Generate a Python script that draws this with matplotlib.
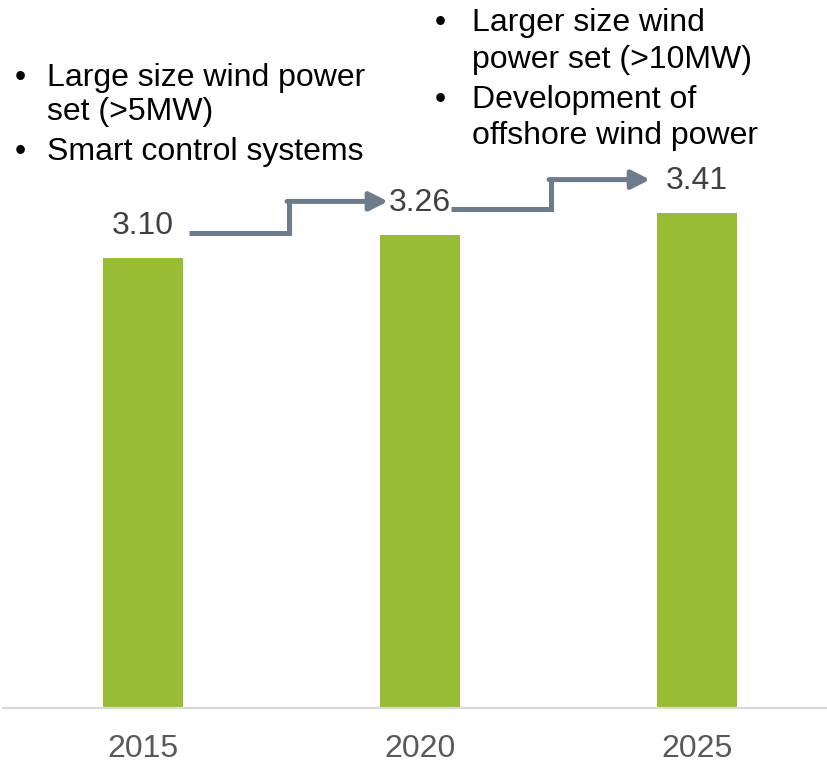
import matplotlib.pyplot as plt

plt.rcParams["font.family"] = ["Liberation Sans", "DejaVu Sans"]

years = ["2015", "2020", "2025"]
values = [3.10, 3.26, 3.41]
left_notes = [["Large size wind power", "set (>5MW)"], ["Smart control systems"]]
right_notes = [["Larger size wind", "power set (>10MW)"], ["Development of", "offshore wind power"]]

W, H = 827, 760
BAR_COLOR = "#98BD34"
ARROW_COLOR = "#6E7B8B"
LABEL_OFFSET = 0.234
ARROW_START = [0.166, 0.112]  # where each step arrow begins, past its bar centre


def px(x, y):
    # pixel position (from top-left) -> figure fraction
    return x / W, 1 - y / H


def draw_notes(fig, notes, bullet_x, text_x, baselines):
    k = 0
    for para in notes:
        for j, line in enumerate(para):
            if j == 0:
                fig.text(*px(bullet_x, baselines[k]), "\u2022", fontsize=23,
                         ha="center", va="baseline", color="black")
            fig.text(*px(text_x, baselines[k]), line, fontsize=23,
                     ha="left", va="baseline", color="black")
            k += 1


fig = plt.figure(figsize=(W / 100, H / 100), dpi=100)
ax = fig.add_axes([3 / W, 52 / H, 824 / W, 708 / H])

xs = list(range(len(years)))
ax.bar(xs, values, width=0.289, color=BAR_COLOR, zorder=2)

ax.set_xlim(-0.5054, 2.469)
ax.set_ylim(0, 4.876)
ax.set_xticks(xs)
ax.set_xticklabels(years, fontsize=23, color="#595959")
ax.tick_params(axis="x", length=0, pad=18.5)
ax.set_yticks([])
for side in ["left", "right", "top"]:
    ax.spines[side].set_visible(False)
ax.spines["bottom"].set_color("#D9D9D9")
ax.spines["bottom"].set_linewidth(1.6)

label_y = [v + LABEL_OFFSET for v in values]
for x, v, ly in zip(xs, values, label_y):
    ax.text(x, ly - 0.015, f"{v:.2f}", fontsize=23, color="#404040",
            ha="center", va="center", zorder=3)

# stepped arrows between labels
for i in range(len(values) - 1):
    y0 = label_y[i] - 0.06
    y1 = label_y[i + 1] - 0.005
    x0 = i + ARROW_START[i]
    xc, x1 = x0 + 0.36, x0 + 0.718
    ax.plot([x0, xc, xc], [y0, y0, y1], color=ARROW_COLOR, lw=3.6,
            solid_joinstyle="miter", solid_capstyle="butt", zorder=3)
    ax.annotate("", xy=(x1, y1), xytext=(xc - 0.006, y1),
                arrowprops=dict(arrowstyle="-|>,head_length=0.55,head_width=0.28",
                                color=ARROW_COLOR, lw=3.6, shrinkA=0, shrinkB=0,
                                mutation_scale=20))

draw_notes(fig, left_notes, 20, 47, [86, 120, 160])
draw_notes(fig, right_notes, 440, 472, [31, 68, 108, 144])

fig.savefig("out.png", dpi=100)
